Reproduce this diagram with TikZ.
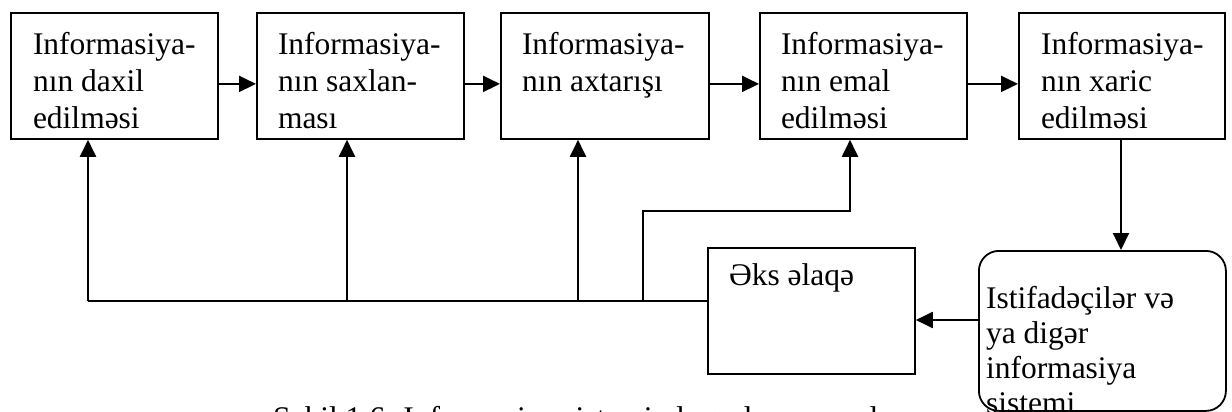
\documentclass[tikz,border=0pt]{standalone}
\usepackage{fontspec}
\setmainfont{Liberation Serif}
\usetikzlibrary{arrows.meta}
\newcommand\diagfont{\fontsize{31.5}{37}\selectfont}
\begin{document}
\begin{tikzpicture}[x=1pt,y=-1pt,line width=2pt,
  stagebox/.style={draw,line width=1.8pt,minimum width=#1,minimum height=126pt,
                   inner sep=0pt,anchor=north west},
  boxtext/.style={anchor=north west,inner sep=0pt,align=left,font=\diagfont},
  arr/.style={-{Triangle[length=17pt,width=16pt]}}]
\useasboundingbox (0,0) rectangle (1232,412);
\clip (0,0) rectangle (1232,412);

% stages of the information flow
\node[stagebox=207pt] (b1) at (10,12) {};
\node[stagebox=207pt] (b2) at (256,12) {};
\node[stagebox=208pt] (b3) at (500,12) {};
\node[stagebox=207pt] (b4) at (759,12) {};
\node[stagebox=206pt] (b5) at (1018,12) {};

\node[boxtext] (t1) at (32,31.5)   {Informasiya-\\nın daxil\\edilməsi};
\node[boxtext] (t2) at (277,31.5)  {Informasiya-\\nın saxlan-\\ması};
\node[boxtext] (t3) at (521,31.5)  {Informasiya-\\nın axtarışı};
\node[boxtext] (t4) at (780,31.5)  {Informasiya-\\nın emal\\edilməsi};
\node[boxtext] (t5) at (1040,31.5) {Informasiya-\\nın xaric\\edilməsi};

% feedback block
\node[draw,line width=1.8pt,minimum width=207pt,minimum height=126pt,
      inner sep=0pt,anchor=north west] (fb) at (707,247) {};
\node[anchor=base west,inner sep=0pt,font=\diagfont] (fbt) at (728,285) {Əks əlaqə};

% users / other systems
\node[draw,line width=1.8pt,rounded corners=20pt,minimum width=247pt,
      minimum height=160pt,inner sep=0pt,anchor=north west] (ub) at (978,250) {};
\node[anchor=north west,inner sep=0pt,align=left,
      font=\fontsize{31.5}{35}\selectfont] (ubt) at (985,285.5)
      {Istifadəçilər və\\ya digər\\informasiya\\sistemi};

% main chain
\draw[arr] ([yshift=-8pt]b1.east) -- ([yshift=-8pt]b2.west);
\draw[arr] ([yshift=-8pt]b2.east) -- ([yshift=-8pt]b3.west);
\draw[arr] ([yshift=-8pt]b3.east) -- ([yshift=-8pt]b4.west);
\draw[arr] ([yshift=-8pt]b4.east) -- ([yshift=-8pt]b5.west);

% feedback bus
\coordinate (j1) at (88,301);
\coordinate (j2) at (347,301);
\coordinate (j3) at (578,301);
\coordinate (j4) at (643,301);
\coordinate (bend) at (643,211);
\coordinate (x4) at (850,211);
\coordinate (d5) at (1121,200);
\coordinate (fk) at (946,320);

\draw (j1) -- (fb.west |- j1);
\draw[arr] (j1) -- (j1 |- b1.south);
\draw[arr] (j2) -- (j2 |- b2.south);
\draw[arr] (j3) -- (j3 |- b3.south);
\draw[arr] (j4) -- (bend) -- (x4) -- (x4 |- b4.south);

\draw[arr] (d5 |- b5.south) -- (d5 |- ub.north);
\draw[arr] (ub.west |- fk) -- (fb.east |- fk);

% caption
\node[anchor=base west,inner sep=0pt,font=\diagfont] (cap) at (272,428)
      {Şəkil 1.6. Informasiya sistemində gedən proseslər};
\end{tikzpicture}
\end{document}
